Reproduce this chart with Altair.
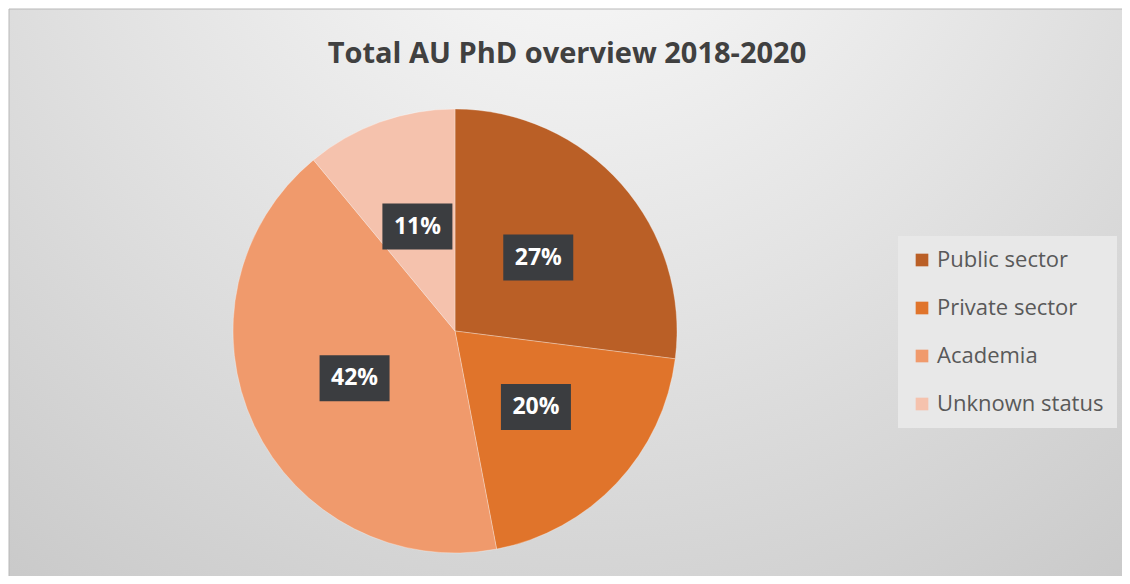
import altair as alt
import pandas as pd

# ---- data ----
categories = ["Public sector", "Private sector", "Academia", "Unknown status"]
values = [27, 20, 42, 11]
colors = ["#BA5F26", "#E0742B", "#F09A6C", "#F5C2AD"]
title_text = "Total AU PhD overview 2018-2020"

df = pd.DataFrame({"category": categories, "value": values, "order": list(range(len(categories)))})

# ---- layout ----
W, H = 1114, 568
CX, CY = 446, 322      # pie centre (view coords)
R_OUT = 222
R_LAB = 111
BW, BH = 70, 46        # label box size
FONT = "Open Sans"

base = alt.Chart(df)

bg = alt.Chart(pd.DataFrame({"a": [0]})).mark_rect(
    fill=alt.Gradient(
        gradient="radial",
        x1=0.5, y1=0.08, x2=0.5, y2=0.08, r1=0.0, r2=0.95,
        stops=[alt.GradientStop(offset=0, color="#FDFDFD"),
               alt.GradientStop(offset=0.45, color="#E3E3E3"),
               alt.GradientStop(offset=1, color="#C2C2C2")],
    ),
    stroke="#B8B8B8", strokeWidth=1,
).encode(x=alt.value(0), x2=alt.value(W + 20), y=alt.value(0), y2=alt.value(H + 20))

pie = base.mark_arc(outerRadius=R_OUT, stroke="#FFFFFF", strokeWidth=0.6, strokeOpacity=0.5).encode(
    theta=alt.Theta("value:Q", stack=True),
    order=alt.Order("order:Q"),
    color=alt.Color(
        "category:N",
        sort=categories,
        scale=alt.Scale(domain=categories, range=colors),
        legend=alt.Legend(
            title=None, orient="none", legendX=889, legendY=227,
            fillColor="#E8E8E8", padding=13,
            symbolType="square", symbolSize=160, symbolStrokeWidth=0,
            labelFont=FONT, labelFontSize=22, labelColor="#595959",
            labelOffset=4, rowPadding=26, labelLimit=400,
        ),
    ),
    x=alt.value(CX), y=alt.value(CY),
)

lab = base.transform_window(
    cum="sum(value)", sort=[alt.SortField("order")], frame=[None, 0]
).transform_joinaggregate(
    total="sum(value)"
).transform_calculate(
    mid="(datum.cum - datum.value/2) / datum.total * 2 * PI",
    lx=f"{CX} + {R_LAB} * sin(datum.mid)",
    ly=f"{CY} - {R_LAB} * cos(datum.mid)",
    x0=f"datum.lx - {BW/2}", x1=f"datum.lx + {BW/2}",
    y0=f"datum.ly - {BH/2}", y1=f"datum.ly + {BH/2}",
    label="datum.value + '%'",
)

boxes = lab.mark_rect(fill="#3B3D40").encode(
    x=alt.X("x0:Q", scale=None), x2="x1:Q",
    y=alt.Y("y0:Q", scale=None), y2="y1:Q",
)
texts = lab.mark_text(font=FONT, fontSize=23, fontWeight="bold", color="#FFFFFF",
                      align="center", baseline="middle").encode(
    x=alt.X("lx:Q", scale=None), y=alt.Y("ly:Q", scale=None), text="label:N",
)

title = alt.Chart(pd.DataFrame({"t": [title_text]})).mark_text(
    font=FONT, fontSize=29, fontWeight="bold", color="#404040",
    align="center", baseline="alphabetic",
).encode(x=alt.value(558), y=alt.value(54), text="t:N")

chart = alt.layer(bg, pie, boxes, texts, title).properties(
    width=W, height=H,
    autosize=alt.AutoSizeParams(type="fit", contains="padding"),
    padding=0,
).configure_view(stroke=None)

chart.save("out.html", embed_options={"renderer": "svg", "actions": False})
